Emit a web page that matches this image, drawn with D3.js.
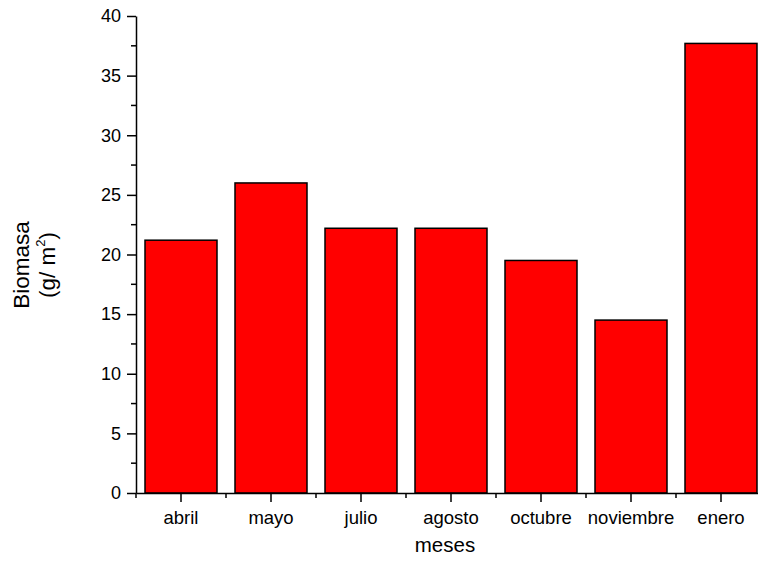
<!DOCTYPE html>
<html>
<head>
<meta charset="utf-8">
<script src="https://cdn.jsdelivr.net/npm/d3@7"></script>
<style>
  body { margin: 0; background: #fff; }
  text { font-family: Arial, "Liberation Sans", sans-serif; fill: #000; }
</style>
</head>
<body>
<svg id="chart" width="758" height="567"></svg>
<script>
// data
const meses = ["abril", "mayo", "julio", "agosto", "octubre", "noviembre", "enero"];
const biomasa = [21.2, 26.0, 22.2, 22.2, 19.5, 14.5, 37.7];
const yTicks = [0, 5, 10, 15, 20, 25, 30, 35, 40];
const yMinor = [2.5, 7.5, 12.5, 17.5, 22.5, 27.5, 32.5, 37.5];

const svg = d3.select("#chart");

const x = d3.scaleBand()
    .domain(meses)
    .range([136, 766])
    .paddingInner(0.2)
    .paddingOuter(0.1);

const y = d3.scaleLinear()
    .domain([0, 40])
    .range([493, 16]);

// bars
svg.selectAll("rect.bar")
    .data(biomasa)
    .enter()
    .append("rect")
    .attr("class", "bar")
    .attr("x", (d, i) => x(meses[i]))
    .attr("width", x.bandwidth())
    .attr("y", d => y(d))
    .attr("height", d => y(0) - y(d))
    .attr("fill", "#ff0000")
    .attr("stroke", "#000")
    .attr("stroke-width", 1.5);

// y axis
const yAxis = svg.append("g")
    .attr("transform", "translate(136,0)")
    .call(d3.axisLeft(y).tickValues(yTicks).tickSize(9).tickPadding(6).tickSizeOuter(0));
yAxis.selectAll("text").attr("font-size", 18);
yAxis.select(".domain").attr("stroke-width", 1.5);
yAxis.selectAll(".tick line").attr("stroke-width", 1.5);

svg.append("g").selectAll("line")
    .data(yMinor)
    .enter()
    .append("line")
    .attr("x1", 131).attr("x2", 136)
    .attr("y1", d => y(d)).attr("y2", d => y(d))
    .attr("stroke", "#000").attr("stroke-width", 1.5);

// x axis
const xAxis = svg.append("g")
    .attr("transform", "translate(0,493)")
    .call(d3.axisBottom(x).tickSize(9).tickPadding(9).tickSizeOuter(0));
xAxis.selectAll("text").attr("font-size", 18.5);
xAxis.select(".domain").attr("stroke-width", 1.5);
xAxis.selectAll(".tick line").attr("stroke-width", 1.5);

// minor ticks between categories
svg.append("g").selectAll("line")
    .data(meses)
    .enter()
    .append("line")
    .attr("x1", d => x(d) - x.step() * 0.1)
    .attr("x2", d => x(d) - x.step() * 0.1)
    .attr("y1", 493).attr("y2", 498)
    .attr("stroke", "#000").attr("stroke-width", 1.5);

// axis titles
svg.append("text")
    .attr("x", 445).attr("y", 552)
    .attr("text-anchor", "middle")
    .attr("font-size", 20.5)
    .text("meses");

const yt = svg.append("text")
    .attr("transform", "translate(29,265) rotate(-90)")
    .attr("text-anchor", "middle")
    .attr("font-size", 22.5);
yt.append("tspan").attr("x", 0).attr("y", 0).text("Biomasa");
const t2 = yt.append("tspan").attr("x", 0).attr("y", 26).text("(g/ m");
t2.append("tspan").attr("font-size", 13).attr("dy", -10).text("2");
t2.append("tspan").attr("dy", 10).text(")");
</script>
</body>
</html>
